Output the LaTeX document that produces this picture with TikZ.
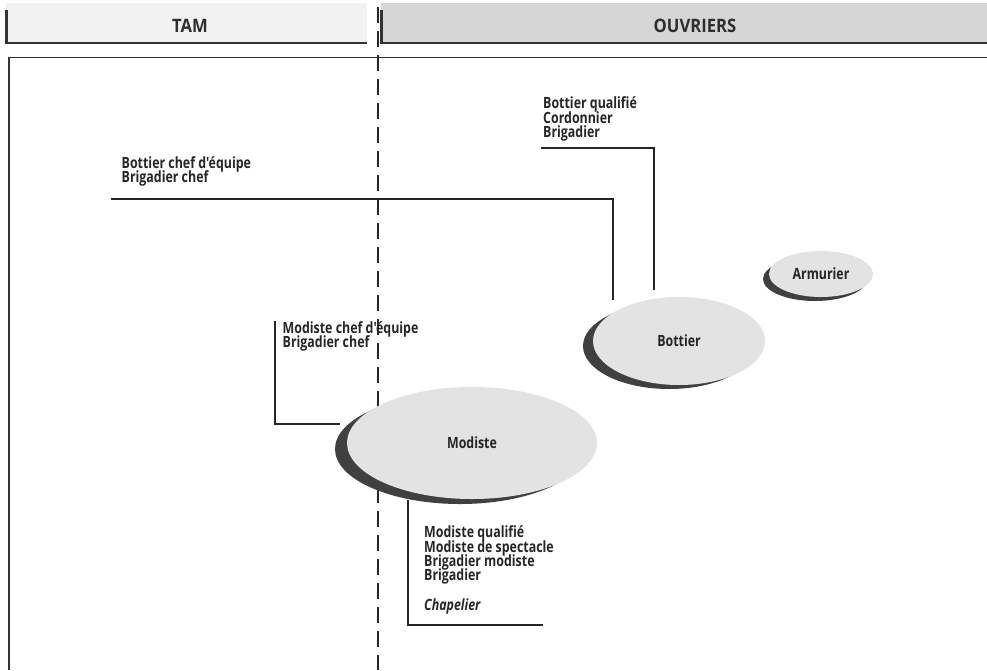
\documentclass[tikz,border=0pt]{standalone}
\usepackage{fontspec}
\setmainfont{Open Sans}
\newfontfamily\condfont[FakeStretch=0.8]{Open Sans}
\newfontfamily\hdrfont[FakeStretch=0.9]{Open Sans}
\usetikzlibrary{shapes.geometric}
\newcommand{\firstline}{\rule{0pt}{12.5pt}}
\newcommand{\tightlines}{\lineskiplimit=-100pt\relax}
\begin{document}
\begin{tikzpicture}[x=1pt,y=-1pt,
  lbl/.style={anchor=north west,inner sep=0pt,align=left,
    font=\condfont\fontsize{15.5}{14.3}\selectfont\bfseries, text=black!85,
    execute at begin node=\tightlines},
  hdr/.style={font=\hdrfont\fontsize{18.5}{18.5}\selectfont\bfseries, text=black!82},
  leader/.style={draw=black!85,line width=1.1pt},
  frame/.style={draw=black!80,line width=1.8pt},
  shade/.style={fill=black!75,draw=none},
  blob/.style={ellipse,fill=black!11,draw=none,inner sep=0pt,
    font=\condfont\fontsize{15.5}{15.5}\selectfont\bfseries, text=black!85}]
\useasboundingbox (0,0) rectangle (987,670);
\fill[white] (0,0) rectangle (987,670);

% column headers
\fill[black!5] (6,3) rectangle (367,43);
\fill[black!16] (381,3) rectangle (987,43);
\draw[frame,line width=2.5pt] (6.5,10) -- (6.5,43) -- (367,43);
\draw[frame,line width=2.5pt] (381.5,10) -- (381.5,43) -- (987,43);
\node[hdr] (tam) at (190,26) {TAM};
\node[hdr] (ouv) at (695,26) {OUVRIERS};

% chart frame
\draw[frame] (987,57.5) -- (9,57.5) -- (9,670);
\draw[black!85,line width=1.5pt,dash pattern=on 16pt off 8pt,dash phase=17pt] (378,0) -- (378,670);

% ovals with their shadows
\fill[shade] (460,449) ellipse (125 and 55);
\node[blob,minimum width=250,minimum height=112] (modiste) at (472,443) {Modiste};
\fill[shade] (669,346) ellipse (86 and 43);
\node[blob,minimum width=172,minimum height=88] (bottier) at (679,341) {Bottier};
\fill[shade] (815,279) ellipse (52 and 22);
\node[blob,minimum width=104,minimum height=46] (armurier) at (821,274) {Armurier};

% job titles (node top = first baseline - 12.5)
\node[lbl] (bq) at (543,96) {\firstline Bottier qualifié\\Cordonnier\\Brigadier};
\node[lbl] (bce) at (121.5,155.8) {\firstline Bottier chef d'équipe\\Brigadier chef};
\node[lbl] (mce) at (282.5,320.8) {\firstline Modiste chef d'équipe\\Brigadier chef};
\node[lbl] (mq) at (424,525) {\firstline Modiste qualifié\\Modiste de spectacle\\Brigadier modiste\\Brigadier\\[15.5pt]\textit{Chapelier}};

% leader lines
\coordinate (bqa) at (541,148);
\coordinate (bqb) at (654,290);
\draw[leader] (bqa) -| (bqb);
\coordinate (bcea) at (111,199);
\coordinate (bceb) at (613,300);
\draw[leader] (bcea) -| (bceb);
\coordinate (mcea) at (275,321);
\coordinate (mceb) at (340,424);
\draw[leader] (mcea) |- (mceb);
\coordinate (mqa) at (408,500);
\coordinate (mqb) at (543,625);
\draw[leader] (mqa) |- (mqb);
\end{tikzpicture}
\end{document}
